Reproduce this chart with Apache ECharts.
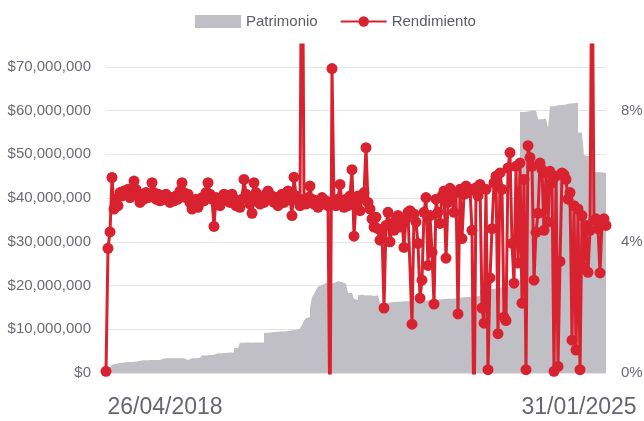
<!DOCTYPE html>
<html>
<head>
<meta charset="utf-8">
<script src="https://cdn.jsdelivr.net/npm/echarts@6/dist/echarts.min.js"></script>
<style>
  html, body { margin: 0; padding: 0; background: #ffffff; }
  #chart { width: 644px; height: 421px; }
</style>
</head>
<body>
<div id="chart"></div>
<script>
// First and last date labels shown on the x axis
const dateLabels = ['26/04/2018', '31/01/2025'];

// Patrimonio (millions of $)
const patrimonio = [
  1.1, 1.3, 1.6, 1.9, 2.1, 2.2, 2.3, 2.3, 2.4, 2.4,
  2.5, 2.5, 2.5, 2.5, 2.6, 2.6,
  2.8, 2.9, 2.9, 2.9, 2.9, 2.9, 3.0, 3.0, 3.0, 2.9, 3.0, 3.0,
  3.3, 3.4, 3.4, 3.4, 3.4, 3.5, 3.4, 3.4, 3.4, 3.5, 3.4,
  3.0, 3.0, 3.0,
  3.4, 3.4, 3.4, 3.5, 3.5, 3.5,
  4.0, 4.0, 4.1, 4.1, 4.1, 4.2, 4.2,
  4.5, 4.5, 4.5, 4.6, 4.6, 4.6, 4.7, 4.7, 4.7,
  5.7, 5.7, 5.7,
  6.9, 6.9, 6.9, 7.0, 7.0, 6.9, 6.9, 7.0, 7.0, 7.0, 7.0, 7.0,
  9.2, 9.2, 9.3, 9.3, 9.3, 9.4, 9.4, 9.5, 9.5, 9.5, 9.6, 9.6, 9.7, 9.8, 9.8, 9.9, 10.0, 10.1, 10.2,
  11.0, 12.0, 12.5, 12.8, 15.0, 17.4, 18.0, 19.0, 19.8, 20.1,
  20.5, 20.6, 20.5, 20.4, 20.8, 20.6, 20.7, 21.0, 20.9, 20.8,
  20.5, 20.4, 20.5,
  18.3, 18.3, 18.3,
  17.0, 16.7,
  17.8, 17.9, 17.9, 17.7, 17.8, 17.8, 17.8, 17.6, 17.7, 17.8, 17.8,
  16.0, 16.0, 16.1, 16.0, 16.0,
  16.2, 16.2, 16.3, 16.2, 16.3, 16.3, 16.4, 16.3, 16.4, 16.4,
  16.4, 16.5, 16.4, 16.5, 16.5, 16.5, 16.6, 16.5, 16.6, 16.6,
  16.7, 16.7, 16.7, 16.8, 16.8, 16.8, 16.9, 16.9, 17.0, 17.0,
  17.0, 17.1, 17.1, 17.2, 17.2, 17.2, 17.3, 17.3, 17.4, 17.4,
  17.4, 17.5, 17.5, 17.6, 17.6,
  19.0, 19.0, 19.1, 19.1, 19.2, 19.2, 19.3, 19.3,
  19.5, 19.5, 19.6, 19.6, 19.6, 19.7, 19.7, 19.7, 19.8, 19.8, 19.8, 19.9,
  59.7, 59.7, 59.8, 59.8, 59.9, 60.0, 60.0, 60.0, 60.1,
  58.0, 58.0, 58.1, 58.2, 58.3,
  56.0,
  61.0, 61.0, 61.1, 61.2, 61.2, 61.3, 61.4, 61.4, 61.5, 61.6, 61.6, 61.7, 61.8, 61.8,
  55.0, 55.0, 55.0,
  49.8, 49.6, 49.5, 49.4, 49.4,
  46.0, 45.9, 45.8, 45.9, 45.6, 45.7, 45.7
];

// Rendimiento (%)
const rendimiento = [
  0.05, 3.8, 4.3, 5.96, 5.0, 5.3, 5.1, 5.5, 5.4, 5.55,
  5.45, 5.6, 5.35, 5.5, 5.85, 5.6, 5.4, 5.2, 5.45, 5.3,
  5.5, 5.35, 5.45, 5.8, 5.5, 5.3, 5.45, 5.25, 5.4, 5.3,
  5.45, 5.3, 5.2, 5.35, 5.25, 5.4, 5.3, 5.55, 5.8, 5.5,
  5.35, 5.45, 5.2, 5.0, 5.15, 5.3, 5.05, 5.2, 5.35, 5.25,
  5.5, 5.8, 5.45, 5.3, 4.47, 5.35, 5.2, 5.1, 5.3, 5.45,
  5.25, 5.4, 5.2, 5.45, 5.3, 5.1, 5.25, 5.05, 5.3, 5.9,
  5.45, 5.3, 5.15, 4.87, 5.8, 5.5, 5.3, 5.15, 5.35, 5.2,
  5.45, 5.55, 5.3, 5.4, 5.2, 5.35, 5.1, 5.3, 5.45, 5.2,
  5.35, 5.55, 5.3, 4.8, 5.97, 5.4, 5.25, 5.1, 16, 5.3,
  5.15, 5.35, 5.7, 5.3, 5.15, 5.25, 5.05, 5.2, 5.35, 5.15,
  5.25, 5.1, -2, 9.28, 5.2, 5.1, 5.3, 5.75, 5.2, 5.05,
  5.3, 5.1, 5.4, 6.2, 4.17, 5.2, 5.4, 4.95, 5.35, 5.5,
  6.87, 5.2, 5.0, 4.7, 4.45, 4.75, 4.4, 4.05, 4.3, 1.98,
  4.5, 4.9, 4.0, 4.55, 4.35, 4.7, 4.8, 4.45, 4.6, 3.83,
  4.7, 4.9, 4.95, 1.49, 4.85, 4.6, 3.95, 2.28, 2.83, 4.9,
  5.35, 3.28, 4.8, 3.68, 2.1, 5.3, 4.9, 4.56, 5.4, 5.55,
  3.5, 5.2, 5.63, 5.4, 4.9, 5.5, 1.8, 5.6, 4.1, 5.45,
  5.7, 5.5, 5.6, 4.35, -2, 5.65, 5.4, 5.75, 1.98, 1.52,
  5.6, 0.1, 2.9, 4.4, 5.8, 6.0, 1.2, 6.1, 5.6, 1.7,
  1.6, 6.25, 6.72, 3.95, 2.74, 6.3, 3.35, 6.4, 2.13, 5.9,
  0.1, 6.93, 6.57, 6.3, 2.83, 4.29, 4.87, 6.4, 6.2, 4.35,
  6.1, 4.6, 6.15, 5.8, 0.05, 6.0, 0.2, 3.4, 6.1, 6.05,
  5.9, 5.3, 5.5, 1.0, 5.1, 0.7, 5.0, 0.1, 4.8, 3.2,
  4.5, 3.07, 4.35, 14, 4.65, 4.7, 4.4, 3.05, 4.6, 4.7,
  4.5
];

const N = rendimiento.length;
const categories = Array.from({ length: N }, (_, i) =>
  i === 0 ? dateLabels[0] : (i === N - 1 ? dateLabels[1] : ''));

const chart = echarts.init(document.getElementById('chart'), null, { renderer: 'canvas' });

const axisTextColor = '#6b6b75';
const sans = '"Liberation Sans", sans-serif';

chart.setOption({
  animation: false,
  backgroundColor: '#ffffff',
  legend: {
    top: 9,
    left: 190,
    itemWidth: 46,
    itemHeight: 13,
    itemGap: 22,
    textStyle: { fontFamily: sans, fontSize: 15, color: '#5c5c66' },
    data: [
      { name: 'Patrimonio', icon: 'rect', itemStyle: { color: '#c1bfc6' } },
      { name: 'Rendimiento' }
    ]
  },
  grid: { left: 106, right: 38, top: 45, bottom: 48, containLabel: false, outerBoundsMode: 'none' },
  xAxis: {
    type: 'category',
    data: categories,
    boundaryGap: false,
    axisLine: { show: false },
    axisTick: { show: false },
    splitLine: { show: false },
    axisLabel: {
      interval: 0,
      margin: 23,
      color: '#666670',
      fontFamily: sans,
      fontSize: 23,
      align: 'center',
      hideOverlap: false,
      formatter: function (v, i) {
        if (i === 0) return '{sp| }{t|' + v + '}';
        if (i === N - 1) return '{t|' + v + '}{sq| }';
        return '';
      },
      rich: {
        t: { fontFamily: sans, fontSize: 23, color: '#666670' },
        sp: { width: 118 },
        sq: { width: 54 }
      }
    }
  },
  yAxis: [
    {
      type: 'value',
      min: 0,
      max: 75,
      interval: 10,
      axisLine: { show: false },
      axisTick: { show: false },
      splitLine: { show: true, showMaxLine: false, lineStyle: { color: '#e5e5e5', width: 1 } },
      axisLabel: {
        showMaxLabel: false,
        margin: 15,
        color: axisTextColor,
        fontFamily: sans,
        fontSize: 15,
        formatter: function (v) { return '$' + (v * 1000000).toLocaleString('en-US'); }
      }
    },
    {
      type: 'value',
      min: 0,
      max: 10,
      interval: 4,
      axisLine: { show: false },
      axisTick: { show: false },
      splitLine: { show: false },
      axisLabel: {
        showMaxLabel: false,
        margin: 15,
        color: axisTextColor,
        fontFamily: sans,
        fontSize: 15,
        formatter: '{value}%'
      }
    }
  ],
  series: [
    {
      name: 'Patrimonio',
      type: 'line',
      step: 'end',
      yAxisIndex: 0,
      data: patrimonio,
      symbol: 'none',
      lineStyle: { width: 0, color: '#c1bfc6' },
      itemStyle: { color: '#c1bfc6' },
      areaStyle: { color: '#c1bfc6', opacity: 1 },
      z: 1
    },
    {
      name: 'Rendimiento',
      type: 'line',
      yAxisIndex: 1,
      data: rendimiento,
      symbol: 'circle',
      symbolSize: 11,
      showAllSymbol: true,
      clip: true,
      lineStyle: { width: 3, color: '#d9222f' },
      itemStyle: { color: '#d9222f' },
      z: 3
    }
  ]
});
</script>
</body>
</html>
